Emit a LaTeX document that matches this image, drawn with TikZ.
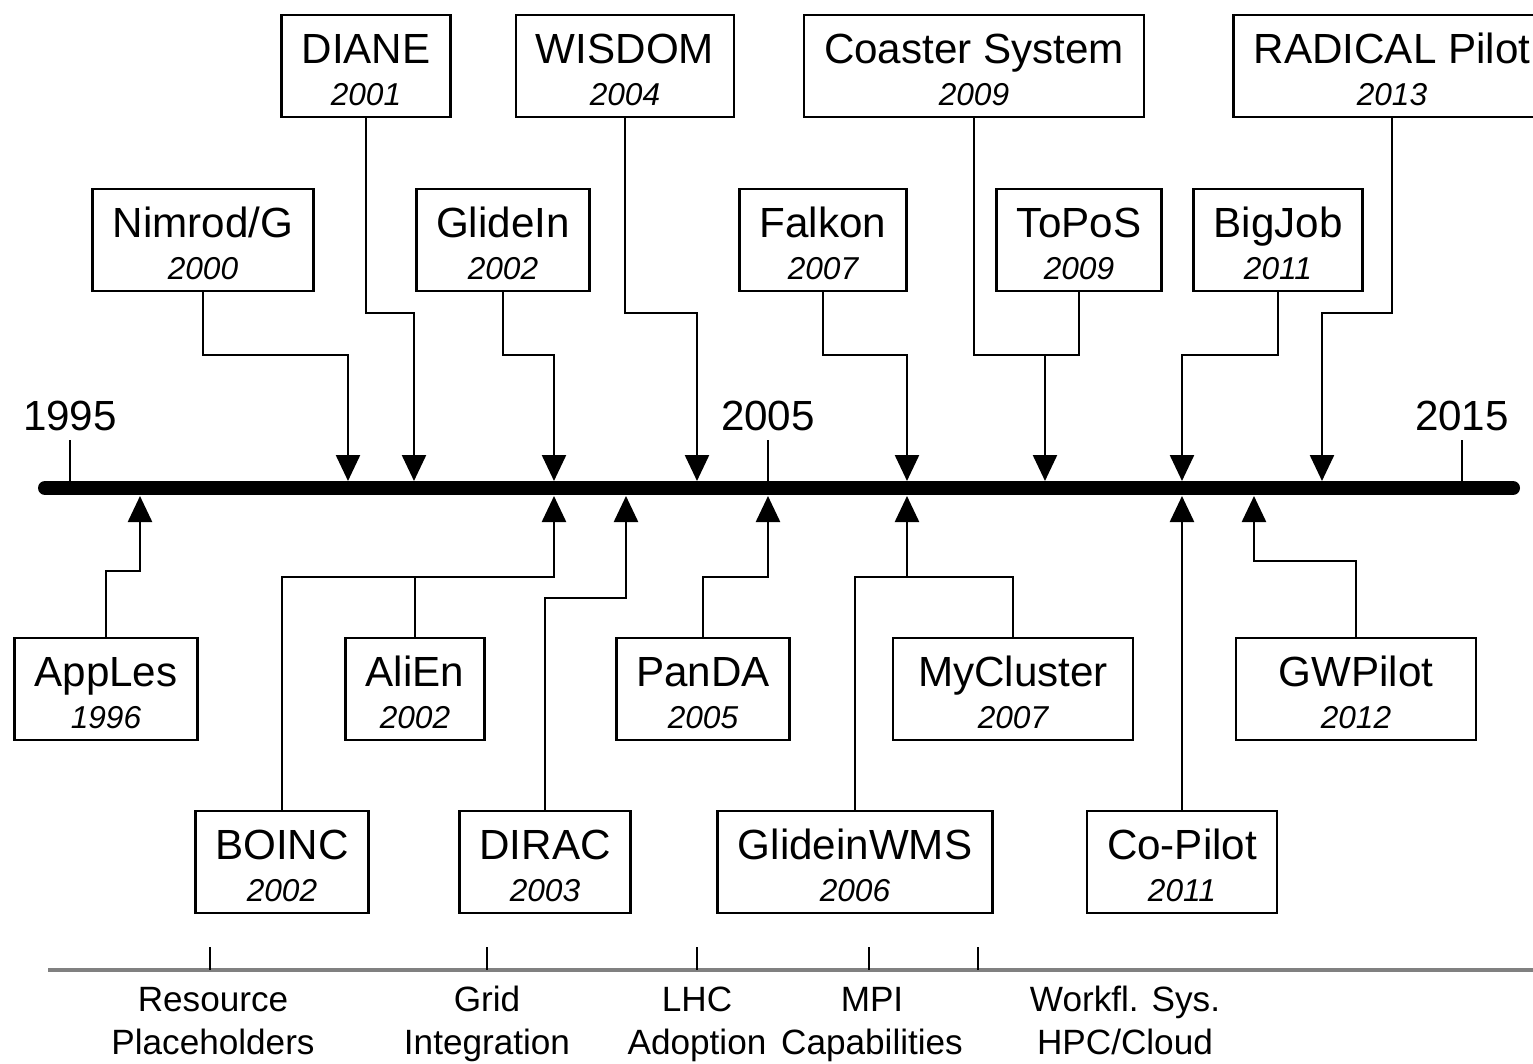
\documentclass[tikz,border=0pt]{standalone}
\usepackage{fontspec}
\setmainfont{Liberation Sans}
\usetikzlibrary{arrows.meta}
\tikzset{
  sysbox/.style={
    draw, line width=0.8pt, align=center, inner xsep=2mm, inner ysep=0pt,
    minimum height=10.2mm, font=\fontsize{12}{11.7}\selectfont,
  },
  conn/.style ={line width=0.7pt},
  hit/.style  ={conn, -{Triangle[width=2.4mm,length=2.6mm]}},
  yearlbl/.style={font=\fontsize{12}{12}\selectfont, inner sep=0pt},
  phase/.style={font=\fontsize{10}{12.2}\selectfont, align=center, inner sep=0pt,
                anchor=north},
}
% name on top, first year below in italics
\newcommand{\sysname}[2]{\rule{0pt}{10.6pt}#1\\{\fontsize{9}{11.7}\selectfont\itshape #2}}
\newcommand{\phasename}[2]{\strut #1\\\strut #2}

\begin{document}
\begin{tikzpicture}[x=0.1mm, y=-0.1mm]
\useasboundingbox (0,0) rectangle (1533,1064);

% ---------------------------------------------------------------- time axis
\draw[line width=1.4mm, line cap=round] (45,488) -- (1513,488);
\foreach \x/\yr in {70/1995, 768/2005, 1462/2015} {
  \draw[line width=0.6pt] (\x,440) -- (\x,488);
  \node[yearlbl] (y\yr) at (\x,416) {\yr};
}

% where the arrows meet the axis
\foreach \name/\x in {nimrod/348, diane/414, glidein/554, wisdom/697,
                      falkon/907, coaster/1045, bigjob/1182, radical/1322}
  \coordinate (\name-tip) at (\x,481);
\foreach \name/\x in {apples/140, boinc/554, dirac/626, panda/768,
                      glideinwms/907, copilot/1182, gwpilot/1254}
  \coordinate (\name-tip) at (\x,496);

% ---------------------------------------------------------------- above
\node[sysbox] (diane)   at (366,66)  {\sysname{DIANE}{2001}};
\node[sysbox] (wisdom)  at (625,66)  {\sysname{WISDOM}{2004}};
\node[sysbox] (coaster) at (974,66)  {\sysname{Coaster System}{2009}};
\node[sysbox] (radical) at (1392,66) {\sysname{RADICAL Pilot}{2013}};

\node[sysbox] (nimrod)  at (203,240)  {\sysname{Nimrod/G}{2000}};
\node[sysbox] (glidein) at (503,240)  {\sysname{GlideIn}{2002}};
\node[sysbox] (falkon)  at (823,240)  {\sysname{Falkon}{2007}};
\node[sysbox] (topos)   at (1079,240) {\sysname{ToPoS}{2009}};
\node[sysbox] (bigjob)  at (1278,240) {\sysname{BigJob}{2011}};

% ---------------------------------------------------------------- below
\node[sysbox] (apples)    at (106,689)  {\sysname{AppLes}{1996}};
\node[sysbox] (alien)     at (415,689)  {\sysname{AliEn}{2002}};
\node[sysbox] (panda)     at (703,689)  {\sysname{PanDA}{2005}};
\node[sysbox, minimum width=24mm] (mycluster) at (1013,689) {\sysname{MyCluster}{2007}};
\node[sysbox, minimum width=24mm] (gwpilot)   at (1356,689) {\sysname{GWPilot}{2012}};

\node[sysbox] (boinc)      at (282,862)  {\sysname{BOINC}{2002}};
\node[sysbox] (dirac)      at (545,862)  {\sysname{DIRAC}{2003}};
\node[sysbox] (glideinwms) at (855,862)  {\sysname{GlideinWMS}{2006}};
\node[sysbox] (copilot)    at (1182,862) {\sysname{Co-Pilot}{2011}};

% ---------------------------------------------------------------- edges
\draw[hit] (diane.south)   |- (diane-tip |- 0,313)   -- (diane-tip);
\draw[hit] (wisdom.south)  |- (wisdom-tip |- 0,313)  -- (wisdom-tip);
\draw[hit] (radical.south) |- (radical-tip |- 0,313) -- (radical-tip);
\draw[hit] (nimrod.south)  |- (nimrod-tip |- 0,355)  -- (nimrod-tip);
\draw[hit] (glidein.south) |- (glidein-tip |- 0,355) -- (glidein-tip);
\draw[hit] (falkon.south)  |- (falkon-tip |- 0,355)  -- (falkon-tip);
\draw[hit] (coaster.south) |- (coaster-tip |- 0,355) -- (coaster-tip);
\draw[conn] (topos.south)  |- (coaster-tip |- 0,355);
\draw[hit] (bigjob.south)  |- (bigjob-tip |- 0,355)  -- (bigjob-tip);

\draw[hit] (apples.north)     |- (apples-tip |- 0,571)     -- (apples-tip);
\draw[hit] (boinc.north)      |- (boinc-tip |- 0,577)      -- (boinc-tip);
\draw[conn] (alien.north)     -- (alien.north |- 0,577);
\draw[hit] (dirac.north)      |- (dirac-tip |- 0,598)      -- (dirac-tip);
\draw[hit] (panda.north)      |- (panda-tip |- 0,577)      -- (panda-tip);
\draw[hit] (glideinwms.north) |- (glideinwms-tip |- 0,577) -- (glideinwms-tip);
\draw[conn] (mycluster.north) |- (glideinwms-tip |- 0,577);
\draw[hit] (copilot.north)    -- (copilot-tip);
\draw[hit] (gwpilot.north)    |- (gwpilot-tip |- 0,561)    -- (gwpilot-tip);

% ---------------------------------------------------------------- phases
\draw[gray, line width=1.3pt] (48,970) -- (1540,970);
\foreach \x in {210, 487, 697, 869, 978}
  \draw[line width=0.5pt] (\x,947) -- (\x,970);
\node[phase] (placeholders) at (213,981)  {\phasename{Resource}{Placeholders}};
\node[phase] (grid)         at (487,981)  {\phasename{Grid}{Integration}};
\node[phase] (lhc)          at (697,981)  {\phasename{LHC}{Adoption}};
\node[phase] (mpi)          at (872,981)  {\phasename{MPI}{Capabilities}};
\node[phase] (workflow)     at (1125,981) {\phasename{Workfl. Sys.}{HPC/Cloud}};

\end{tikzpicture}
\end{document}
